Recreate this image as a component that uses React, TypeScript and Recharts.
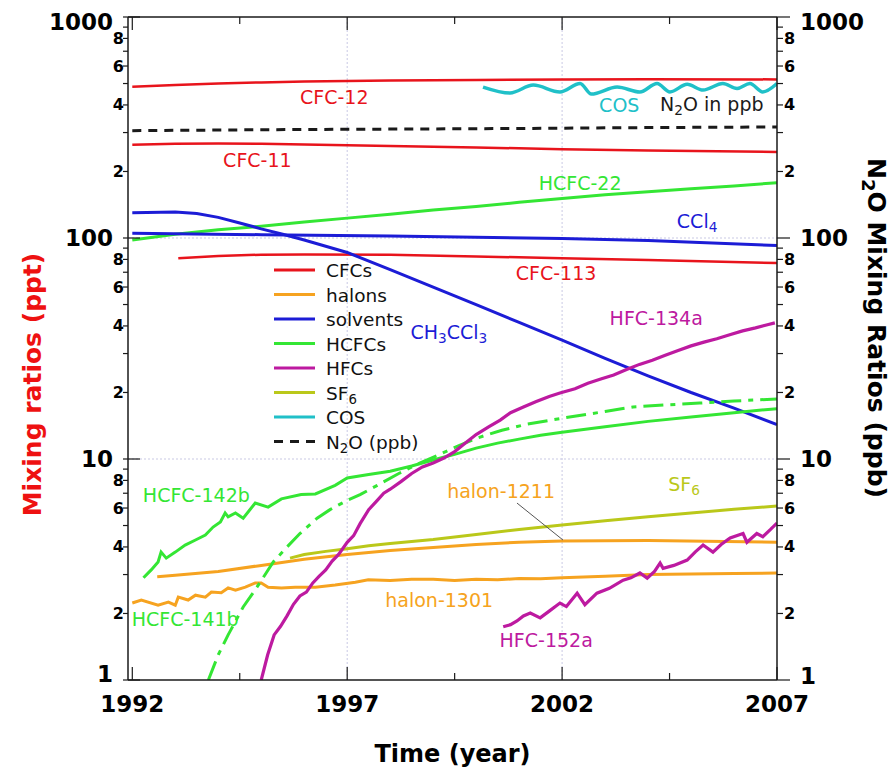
import { LineChart, Line, XAxis, YAxis, ReferenceLine, ReferenceDot, Legend } from 'recharts';

const RED = '#e8141c';
const ORANGE = '#f6a320';
const BLUE = '#1c1cd6';
const GREEN = '#34e634';
const MAGENTA = '#bd1aa0';
const YGREEN = '#bac81a';
const CYAN = '#20c0c8';
const INK = '#1a1a1a';
const FONT = '"DejaVu Sans", Arial, sans-serif';

// axis ticks
const yearTicks = [1992, 1994.5, 1997, 1999.5, 2002, 2004.5, 2007];
const yearLabels = [1992, 1997, 2002, 2007];
const yTicks = [
  1, 2, 3, 4, 5, 6, 7, 8, 9,
  10, 20, 30, 40, 50, 60, 70, 80, 90,
  100, 200, 300, 400, 500, 600, 700, 800, 900, 1000,
];
const decadeTicks = [1, 10, 100, 1000];
const labeledDigits = [2, 4, 6, 8];

// [year, mixing ratio]
const cfc12 = [[1992, 484], [1993, 492], [1994, 500], [1995, 506], [1996, 511], [1998, 516], [2000, 519], [2002, 522], [2004, 523], [2007, 522]];
const cfc11 = [[1992, 264], [1993, 267], [1994, 268], [1995, 267], [1996, 265], [1998, 261], [2000, 257], [2002, 252], [2004, 249], [2007, 245]];
const cfc113 = [[1993.07, 81], [1994, 83], [1995, 84], [1996, 84.3], [1998, 84], [2000, 82.5], [2002, 81], [2004, 79.5], [2007, 77]];
const n2o = [[1992, 306], [1995, 309], [1998, 311], [2001, 313], [2004, 316], [2007, 318]];
const cos = [[2000.16, 482], [2000.79, 453], [2001.33, 492], [2001.95, 458], [2002.42, 500], [2002.68, 448], [2003.28, 482], [2003.81, 458], [2004.21, 500], [2004.51, 458], [2004.91, 496], [2005.28, 467], [2005.74, 500], [2006.07, 475], [2006.37, 500], [2006.67, 458], [2007.0, 500]];
const hcfc22 = [[1992, 98], [1993, 104], [1994, 109], [1995, 113], [1996, 118], [1997, 123], [1998, 128], [1999, 134], [2000, 139], [2001, 145], [2002, 151], [2003, 157], [2004, 162], [2005, 167], [2006, 172], [2007, 178]];
const ccl4 = [[1992, 105], [1995, 103.5], [1998, 102], [2002, 99.5], [2004, 97.5], [2007, 92.5]];
const ch3ccl3 = [[1992, 130], [1993, 131], [1993.5, 129], [1994, 124], [1994.5, 117], [1995, 110], [1995.5, 104], [1996, 98], [1997, 86], [1998, 72], [1999, 60], [2000, 50], [2001, 41.5], [2002, 34.5], [2003, 28.5], [2004, 23.8], [2005, 20], [2006, 17], [2007, 14.3]];
const hcfc142b = [[1992.26, 2.9], [1992.44, 3.15], [1992.6, 3.42], [1992.67, 3.79], [1992.79, 3.56], [1993.0, 3.79], [1993.23, 4.08], [1993.47, 4.3], [1993.7, 4.53], [1993.88, 4.92], [1994.05, 5.19], [1994.16, 5.7], [1994.23, 5.47], [1994.4, 5.7], [1994.58, 5.4], [1994.86, 6.32], [1995.16, 6.06], [1995.47, 6.6], [1995.93, 6.9], [1996.26, 6.95], [1996.72, 7.6], [1997.0, 8.2], [1997.5, 8.5], [1998.0, 8.8], [1998.5, 9.3], [1999.0, 9.9], [1999.5, 10.5], [2000.0, 11.2], [2000.5, 11.8], [2001.0, 12.3], [2001.5, 12.8], [2002.0, 13.2], [2003.0, 14.0], [2004.0, 14.8], [2005.0, 15.5], [2006.0, 16.2], [2007.0, 16.9]];
const hcfc141b = [[1993.77, 1.0], [1994.0, 1.3], [1994.23, 1.6], [1994.58, 2.14], [1994.9, 2.63], [1995.28, 3.42], [1995.6, 4.0], [1995.9, 4.6], [1996.3, 5.4], [1996.6, 5.9], [1997.0, 6.5], [1997.3, 6.9], [1997.7, 7.6], [1998.2, 8.6], [1998.7, 9.6], [1999.2, 10.6], [1999.6, 11.5], [2000.0, 12.4], [2000.6, 13.5], [2001.2, 14.4], [2002.0, 15.3], [2003.0, 16.4], [2003.65, 17.2], [2004.5, 17.6], [2005.2, 17.9], [2006.0, 18.3], [2007.0, 18.7]];
const hfc134a = [[1995.0, 1.0], [1995.15, 1.3], [1995.3, 1.6], [1995.45, 1.75], [1995.6, 1.95], [1995.75, 2.2], [1995.9, 2.4], [1996.05, 2.5], [1996.2, 2.75], [1996.35, 2.95], [1996.5, 3.15], [1996.65, 3.45], [1996.8, 3.7], [1997.0, 4.2], [1997.15, 4.5], [1997.3, 5.1], [1997.5, 5.9], [1997.7, 6.5], [1997.85, 7.0], [1998.0, 7.3], [1998.25, 7.9], [1998.5, 8.6], [1998.75, 9.2], [1999.0, 9.6], [1999.25, 10.1], [1999.5, 10.8], [1999.75, 11.8], [2000.0, 12.9], [2000.3, 14.0], [2000.56, 15.0], [2000.8, 16.2], [2001.1, 17.2], [2001.4, 18.2], [2001.7, 19.2], [2001.95, 19.9], [2002.3, 20.8], [2002.6, 22.0], [2002.9, 23.0], [2003.2, 24.0], [2003.5, 25.4], [2003.8, 26.8], [2004.1, 28.0], [2004.4, 29.5], [2004.7, 31.0], [2005.0, 32.5], [2005.3, 33.8], [2005.6, 35.0], [2005.9, 36.5], [2006.2, 38.0], [2006.5, 39.2], [2006.8, 40.6], [2006.95, 41.3]];
const hfc152a = [[2000.63, 1.74], [2000.8, 1.78], [2000.95, 1.85], [2001.1, 1.95], [2001.26, 2.01], [2001.49, 1.91], [2001.7, 2.05], [2001.95, 2.23], [2002.1, 2.15], [2002.35, 2.47], [2002.53, 2.19], [2002.81, 2.47], [2003.1, 2.6], [2003.42, 2.83], [2003.6, 2.9], [2003.81, 3.05], [2003.98, 2.89], [2004.15, 3.1], [2004.28, 3.38], [2004.35, 3.2], [2004.6, 3.3], [2004.91, 3.49], [2005.1, 3.8], [2005.28, 4.08], [2005.51, 3.79], [2005.7, 4.1], [2005.91, 4.39], [2006.21, 4.6], [2006.3, 4.2], [2006.53, 4.6], [2006.67, 4.45], [2006.85, 4.8], [2007.0, 5.13]];
const sf6 = [[1995.67, 3.56], [1996, 3.7], [1996.5, 3.82], [1997, 3.93], [1997.5, 4.05], [1998, 4.15], [1999, 4.32], [2000, 4.55], [2001, 4.8], [2002, 5.03], [2003, 5.25], [2004, 5.48], [2005, 5.7], [2006, 5.92], [2007, 6.13]];
const halon1211 = [[1992.58, 2.93], [1993, 2.98], [1994, 3.1], [1995, 3.3], [1996, 3.52], [1997, 3.7], [1998, 3.85], [1999, 3.98], [2000, 4.1], [2001, 4.2], [2002, 4.26], [2004, 4.28], [2007, 4.2]];
const halon1301 = [[1992.0, 2.23], [1992.21, 2.3], [1992.6, 2.18], [1992.84, 2.25], [1993.0, 2.18], [1993.07, 2.37], [1993.3, 2.3], [1993.47, 2.42], [1993.7, 2.37], [1993.84, 2.5], [1994.07, 2.48], [1994.23, 2.61], [1994.4, 2.55], [1994.63, 2.63], [1994.86, 2.75], [1995.0, 2.75], [1995.16, 2.63], [1995.47, 2.61], [1995.79, 2.63], [1996.26, 2.63], [1996.72, 2.69], [1997.19, 2.77], [1997.49, 2.84], [1998, 2.82], [1998.5, 2.86], [1999, 2.86], [1999.5, 2.82], [2000, 2.86], [2000.5, 2.84], [2001, 2.88], [2001.5, 2.87], [2002, 2.9], [2003, 2.95], [2004, 3.0], [2005, 3.02], [2006, 3.03], [2007, 3.05]];

// in-plot labels: text, year, value, colour, anchor ('_' marks a subscript)
const notes = [
  { parts: ['CFC-12'], year: 1996.7, value: 434, color: RED, anchor: 'middle' },
  { parts: ['CFC-11'], year: 1994.91, value: 226, color: RED, anchor: 'middle' },
  { parts: ['COS'], year: 2003.33, value: 400, color: CYAN, anchor: 'middle' },
  { parts: ['N', '_2', 'O in ppb'], year: 2004.28, value: 404, color: INK, anchor: 'start' },
  { parts: ['HCFC-22'], year: 2002.42, value: 177, color: GREEN, anchor: 'middle' },
  { parts: ['CCl', '_4'], year: 2004.67, value: 120, color: BLUE, anchor: 'start' },
  { parts: ['CFC-113'], year: 2001.86, value: 69.5, color: RED, anchor: 'middle' },
  { parts: ['CH', '_3', 'CCl', '_3'], year: 1998.47, value: 37.6, color: BLUE, anchor: 'start' },
  { parts: ['HFC-134a'], year: 2004.19, value: 43.5, color: MAGENTA, anchor: 'middle' },
  { parts: ['HCFC-142b'], year: 1993.49, value: 6.87, color: GREEN, anchor: 'middle' },
  { parts: ['halon-1211'], year: 2000.58, value: 7.16, color: ORANGE, anchor: 'middle' },
  { parts: ['SF', '_6'], year: 2004.47, value: 7.71, color: YGREEN, anchor: 'start' },
  { parts: ['HCFC-141b'], year: 1993.23, value: 1.89, color: GREEN, anchor: 'middle' },
  { parts: ['halon-1301'], year: 1999.14, value: 2.3, color: ORANGE, anchor: 'middle' },
  { parts: ['HFC-152a'], year: 2001.63, value: 1.52, color: MAGENTA, anchor: 'middle' },
];

const legendItems = [
  { parts: ['CFCs'], color: RED },
  { parts: ['halons'], color: ORANGE },
  { parts: ['solvents'], color: BLUE },
  { parts: ['HCFCs'], color: GREEN },
  { parts: ['HFCs'], color: MAGENTA },
  { parts: ['SF', '_6'], color: YGREEN },
  { parts: ['COS'], color: CYAN },
  { parts: ['N', '_2', 'O (ppb)'], color: INK, dash: '9 7' },
];

const pts = (arr: number[][]) => arr.map(([year, v]) => ({ year, v }));

function Parts({ parts, size }: { parts: string[]; size: number }) {
  const shift = Math.round(size * 0.3);
  let down = false;
  return (
    <>
      {parts.map((p, i) => {
        const sub = p.startsWith('_');
        let dy = 0;
        if (sub && !down) { dy = shift; down = true; }
        if (!sub && down) { dy = -shift; down = false; }
        return (
          <tspan key={i} dy={dy} fontSize={sub ? size * 0.72 : size}>
            {sub ? p.slice(1) : p}
          </tspan>
        );
      })}
    </>
  );
}

const noteLabel = (n: any) => (props: any) => {
  const vb = props.viewBox;
  const x = vb.x + vb.width / 2;
  const y = vb.y + vb.height / 2;
  return (
    <text x={x} y={y} textAnchor={n.anchor} dominantBaseline="central" fill={n.color} fontFamily={FONT} fontSize={19}>
      <Parts parts={n.parts} size={19} />
    </text>
  );
};

const digitOf = (v: number) => Math.round(v / Math.pow(10, Math.floor(Math.log10(v) + 1e-9)));

const LeftTick = (props: any) => {
  const { x, y, payload } = props;
  const v = payload.value;
  const major = decadeTicks.includes(v);
  const d = digitOf(v);
  const shift = v === 1000 ? 5 : v === 1 ? -6 : 0;
  return (
    <g>
      <line x1={x - 5} x2={major ? x + 12 : x} y1={y} y2={y} stroke={INK} strokeWidth={1.2} />
      {major && (
        <text x={x - 15} y={y + shift} textAnchor="end" dominantBaseline="central" fontFamily={FONT} fontWeight="bold" fontSize={23} fill="#000">
          {v}
        </text>
      )}
      {!major && labeledDigits.includes(d) && (
        <text x={x - 4} y={y} textAnchor="end" dominantBaseline="central" fontFamily={FONT} fontWeight="bold" fontSize={16} fill="#000">
          {d}
        </text>
      )}
    </g>
  );
};

const RightTick = (props: any) => {
  const { x, y, payload } = props;
  const v = payload.value;
  const major = decadeTicks.includes(v);
  const d = digitOf(v);
  const shift = v === 1000 ? 5 : v === 1 ? -4 : 0;
  return (
    <g>
      <line x1={x} x2={x + (major ? 13 : 6)} y1={y} y2={y} stroke={INK} strokeWidth={1.2} />
      {major && (
        <text x={x + 23} y={y + shift} textAnchor="start" dominantBaseline="central" fontFamily={FONT} fontWeight="bold" fontSize={23} fill="#000">
          {v}
        </text>
      )}
      {!major && labeledDigits.includes(d) && (
        <text x={x + 7} y={y} textAnchor="start" dominantBaseline="central" fontFamily={FONT} fontWeight="bold" fontSize={16} fill="#000">
          {d}
        </text>
      )}
    </g>
  );
};

const BottomTick = (props: any) => {
  const { x, y, payload } = props;
  const major = yearLabels.includes(payload.value);
  return (
    <g>
      <line x1={x} x2={x} y1={y} y2={y - (major ? 13 : 7)} stroke={INK} strokeWidth={1.2} />
      {major && (
        <text x={x} y={y + 24} textAnchor="middle" dominantBaseline="central" fontFamily={FONT} fontWeight="bold" fontSize={23} fill="#000">
          {payload.value}
        </text>
      )}
    </g>
  );
};

const TopTick = (props: any) => {
  const { x, y, payload } = props;
  const major = yearLabels.includes(payload.value);
  return <line x1={x} x2={x} y1={y} y2={y + (major ? 13 : 7)} stroke={INK} strokeWidth={1.2} />;
};

const timeTitle = (props: any) => {
  const vb = props.viewBox;
  return (
    <text x={vb.x + vb.width / 2} y={vb.y + 82} textAnchor="middle" fontFamily={FONT} fontWeight="bold" fontSize={24} fill="#000">
      Time (year)
    </text>
  );
};

const leftTitle = (props: any) => {
  const vb = props.viewBox;
  const cx = vb.x - 36;
  const cy = vb.y + vb.height / 2 + 36;
  return (
    <text x={cx} y={cy} transform={`rotate(-90 ${cx} ${cy})`} textAnchor="middle" dominantBaseline="central" fontFamily={FONT} fontWeight="bold" fontSize={25} fill="#ee1111">
      Mixing ratios (ppt)
    </text>
  );
};

const rightTitle = (props: any) => {
  const vb = props.viewBox;
  const cx = vb.x + 100;
  const cy = vb.y + 311;
  return (
    <text x={cx} y={cy} transform={`rotate(90 ${cx} ${cy})`} textAnchor="middle" dominantBaseline="central" fontFamily={FONT} fontWeight="bold" fontSize={25} fill="#000">
      <Parts parts={['N', '_2', 'O Mixing Ratios (ppb)']} size={25} />
    </text>
  );
};

const GroupLegend = () => (
  <svg width={170} height={200} style={{ display: 'block' }}>
    {legendItems.map((it, i) => {
      const y = 12 + i * 24.5;
      return (
        <g key={i}>
          <line x1={1} x2={42} y1={y} y2={y} stroke={it.color} strokeWidth={3} strokeDasharray={it.dash} />
          <text x={53} y={y} dominantBaseline="central" fontFamily={FONT} fontSize={18.5} fill="#111">
            <Parts parts={it.parts} size={18.5} />
          </text>
        </g>
      );
    })}
  </svg>
);

const series = [
  { id: 'cfc12', data: cfc12, color: RED, width: 2.5 },
  { id: 'cfc11', data: cfc11, color: RED, width: 2.5 },
  { id: 'cfc113', data: cfc113, color: RED, width: 2.5 },
  { id: 'hcfc22', data: hcfc22, color: GREEN, width: 3 },
  { id: 'ccl4', data: ccl4, color: BLUE, width: 3 },
  { id: 'ch3ccl3', data: ch3ccl3, color: BLUE, width: 3 },
  { id: 'halon1211', data: halon1211, color: ORANGE, width: 3 },
  { id: 'halon1301', data: halon1301, color: ORANGE, width: 3 },
  { id: 'sf6', data: sf6, color: YGREEN, width: 3 },
  { id: 'hcfc142b', data: hcfc142b, color: GREEN, width: 3 },
  { id: 'hcfc141b', data: hcfc141b, color: GREEN, width: 3, dash: '20 7 5 7' },
  { id: 'hfc134a', data: hfc134a, color: MAGENTA, width: 3.2 },
  { id: 'hfc152a', data: hfc152a, color: MAGENTA, width: 3.2 },
];

export default function App() {
  const gridStyle = { stroke: '#c9c9e4', strokeDasharray: '2 2', strokeWidth: 1 };
  return (
    <div style={{ position: 'absolute', left: 0, top: 0, width: 894, height: 771, background: '#fff' }}>
      <LineChart width={894} height={771} margin={{ top: 7, right: 57, bottom: 51, left: 68 }}>
        <XAxis
          xAxisId="b" dataKey="year" type="number" domain={[1991.9, 2007]} allowDataOverflow
          ticks={yearTicks} interval={0} height={40} tickLine={false} tickSize={0} tickMargin={0}
          tick={BottomTick} axisLine={{ stroke: INK, strokeWidth: 1.5 }} label={timeTitle}
        />
        <XAxis
          xAxisId="t" orientation="top" dataKey="year" type="number" domain={[1991.9, 2007]} allowDataOverflow
          ticks={yearTicks} interval={0} height={10} tickLine={false} tickSize={0} tickMargin={0}
          tick={TopTick} axisLine={{ stroke: INK, strokeWidth: 1.5 }}
        />
        <YAxis
          yAxisId="l" type="number" scale="log" domain={[1, 1000]} allowDataOverflow
          ticks={yTicks} interval={0} width={60} tickLine={false} tickSize={0} tickMargin={0}
          tick={LeftTick} axisLine={{ stroke: INK, strokeWidth: 1.5 }} label={leftTitle}
        />
        <YAxis
          yAxisId="r" orientation="right" type="number" scale="log" domain={[1, 1000]} allowDataOverflow
          ticks={yTicks} interval={0} width={60} tickLine={false} tickSize={0} tickMargin={0}
          tick={RightTick} axisLine={{ stroke: INK, strokeWidth: 1.5 }} label={rightTitle}
        />

        <ReferenceLine xAxisId="b" yAxisId="l" x={1997} {...gridStyle} />
        <ReferenceLine xAxisId="b" yAxisId="l" x={2002} {...gridStyle} />
        <ReferenceLine xAxisId="b" yAxisId="l" y={10} {...gridStyle} />
        <ReferenceLine xAxisId="b" yAxisId="l" y={100} {...gridStyle} />

        {series.map((s) => (
          <Line
            key={s.id} xAxisId="b" yAxisId="l" data={pts(s.data)} dataKey="v" type="linear"
            stroke={s.color} strokeWidth={s.width} strokeDasharray={s.dash} dot={false}
            activeDot={false} isAnimationActive={false} legendType="none"
          />
        ))}
        <Line
          xAxisId="b" yAxisId="l" data={pts(cos)} dataKey="v" type="monotone" stroke={CYAN}
          strokeWidth={3.5} dot={false} activeDot={false} isAnimationActive={false} legendType="none"
        />
        <Line
          xAxisId="b" yAxisId="r" data={pts(n2o)} dataKey="v" type="linear" stroke={INK}
          strokeWidth={3} strokeDasharray="9 7" dot={false} activeDot={false} isAnimationActive={false} legendType="none"
        />

        <ReferenceLine
          xAxisId="b" yAxisId="l" stroke="#555" strokeWidth={1}
          segment={[{ x: 2000.95, y: 6.32 }, { x: 2002.02, y: 4.3 }]}
        />

        {notes.map((n, i) => (
          <ReferenceDot
            key={i} xAxisId="b" yAxisId="l" x={n.year} y={n.value} r={0}
            fill="none" stroke="none" label={noteLabel(n)}
          />
        ))}

        <Legend
          content={GroupLegend} layout="vertical" align="center" verticalAlign="middle"
          wrapperStyle={{ left: 273, top: 258, width: 170, height: 200 }}
        />
      </LineChart>
    </div>
  );
}
